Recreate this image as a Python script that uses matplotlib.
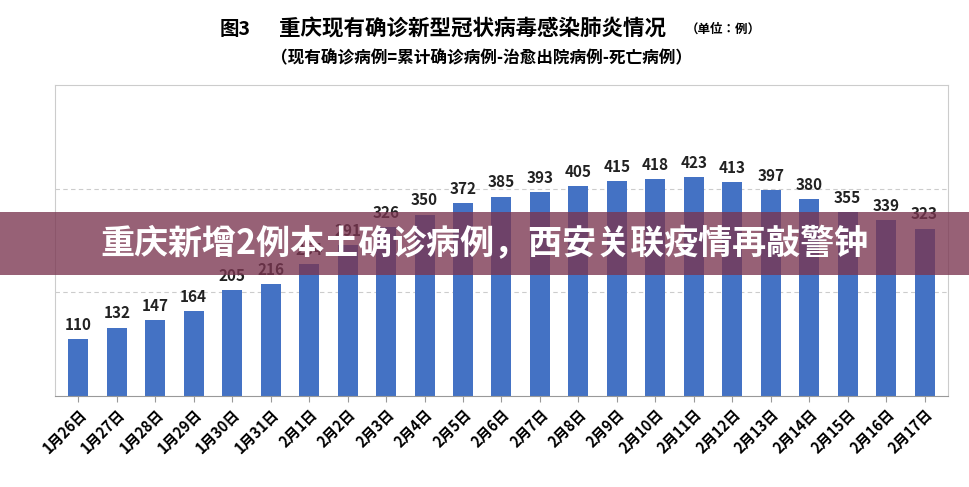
import matplotlib
matplotlib.use("Agg")
import matplotlib.pyplot as plt
from matplotlib.patches import Rectangle

plt.rcParams["font.family"] = ["Noto Sans CJK SC", "Noto Sans CJK JP", "DejaVu Sans"]

dates = ["1月26日","1月27日","1月28日","1月29日","1月30日","1月31日","2月1日","2月2日","2月3日",
         "2月4日","2月5日","2月6日","2月7日","2月8日","2月9日","2月10日","2月11日","2月12日",
         "2月13日","2月14日","2月15日","2月16日","2月17日"]
values = [110,132,147,164,205,216,254,291,326,350,372,385,393,405,415,418,423,413,397,380,355,339,323]

fig = plt.figure(figsize=(9.69,4.87), dpi=100)
fig.patch.set_facecolor("white")
ax = fig.add_axes([0.057, 0.187, 0.921, 0.638])
x = range(len(values))
ax.bar(x, values, width=0.52, color="#4472C4", zorder=2)
for xi, v in zip(x, values):
    ax.text(xi, v+12, str(v), ha="center", va="bottom", fontsize=11, fontweight="bold", color="#222")
ax.set_xlim(-0.6, len(values)-0.4)
ax.set_ylim(0, 600)
ax.set_yticks([200,400])
ax.yaxis.grid(True, linestyle=(0,(4,3)), color="#cccccc", lw=0.8)
ax.tick_params(axis="y", length=0, labelleft=False)
ax.set_xticks(list(x))
ax.set_xticklabels(dates, rotation=45, ha="right", rotation_mode="anchor", fontsize=10.5, fontweight="bold")
ax.tick_params(axis="x", length=4, color="#999")
for s in ax.spines.values():
    s.set_color("#cccccc")
ax.spines["bottom"].set_color("#999999")

fig.text(0.227, 0.94, "图3", fontsize=14, fontweight="bold", va="center")
fig.text(0.288, 0.94, "重庆现有确诊新型冠状病毒感染肺炎情况", fontsize=15.5, fontweight="bold", va="center")
fig.text(0.708, 0.94, "（单位：例）", fontsize=9, fontweight="bold", va="center")
fig.text(0.497, 0.88, "（现有确诊病例=累计确诊病例-治愈出院病例-死亡病例）", fontsize=12, fontweight="bold", va="center", ha="center")

fig.patches.append(Rectangle((0, 1-275/487), 1, 63/487, transform=fig.transFigure,
                             facecolor="#7a3550", alpha=0.78, zorder=10))
fig.text(0.5, 1-244/487, "重庆新增2例本土确诊病例，西安关联疫情再敲警钟", fontsize=24.5, fontweight="bold",
         color="white", ha="center", va="center", zorder=11)
fig.savefig("out.png", dpi=100)
